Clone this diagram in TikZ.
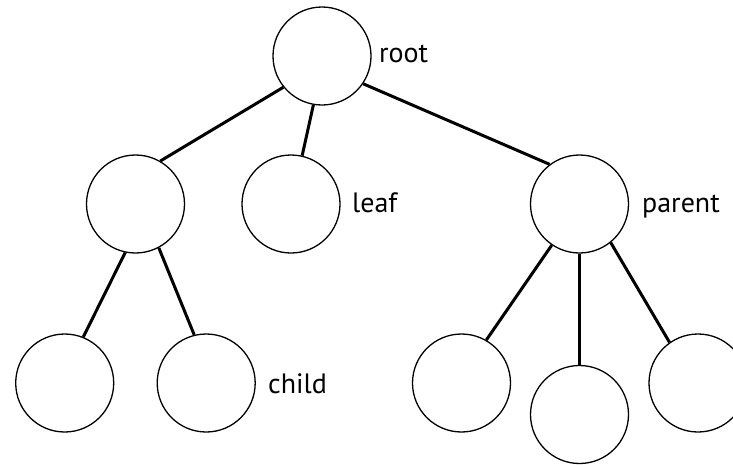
\documentclass[tikz,border=0pt]{standalone}
\usepackage{fontspec}
\setmainfont{PT Sans}
\begin{document}
\begin{tikzpicture}[
	x=1pt,
	y=-1pt,
	vertex/.style={
		circle,
		draw=black,
		line width=1.3pt,
		fill=white,
		minimum size=98pt,
		inner sep=0pt
	},
	tag/.style={
		anchor=base west,
		inner sep=0pt,
		font=\fontsize{28}{34}\selectfont
	},
	edge/.style={
		line width=3pt
	},
]
\useasboundingbox (0,0) rectangle (733,464);

\node[vertex] (root) at (322, 56) {};

\node[vertex] (n1) at (135.5, 204) {};
\node[vertex] (leaf) at (291, 204) {};
\node[vertex] (parent) at (579.5, 204) {};

\node[vertex] (c1) at (64.7, 383) {};
\node[vertex] (c2) at (206.2, 383) {};

\node[vertex] (p1) at (461.5, 383) {};
\node[vertex] (p2) at (579.5, 414.5) {};
\node[vertex] (p3) at (698, 383) {};

\node[tag] (troot) at (379, 62) {root};
\node[tag] (tleaf) at (352, 212) {leaf};
\node[tag] (tparent) at (642, 212) {parent};
\node[tag] (tchild) at (268, 393) {child};

\draw[edge] (root.219) -- (n1.60);
\draw[edge] (root.260) -- (leaf.77);
\draw[edge] (root.326) -- (parent.127);

\draw[edge] (n1.258) -- (c1.68);
\draw[edge] (n1.298) -- (c2.104);

\draw[edge] (parent.236) -- (p1.60);
\draw[edge] (parent.south) -- (p2.north);
\draw[edge] (parent.309) -- (p3.125);

\end{tikzpicture}
\end{document}
